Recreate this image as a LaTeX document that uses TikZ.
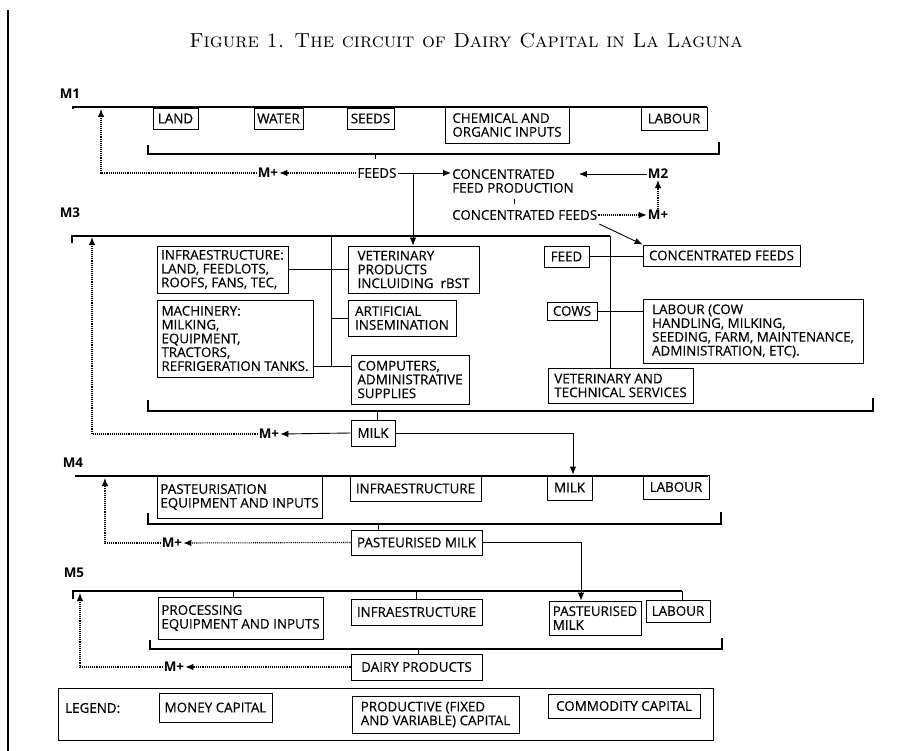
\documentclass[tikz,border=0pt]{standalone}
\usepackage{fontspec}
\usetikzlibrary{arrows.meta,calc}
\newfontfamily\diag[FakeBold=0.35]{Open Sans}
\newfontfamily\diagb{Open Sans}
\newcommand\dfont{\diag\fontsize{13.4}{13.8}\selectfont}
\newcommand\mkbox[6]{%
  \pgfmathsetmacro\bw{#4-#2}\pgfmathsetmacro\bh{#5-#3}%
  \node[bx, minimum width=\bw pt, minimum height=\bh pt] (#1) at ({(#2+#4)/2},{(#3+#5)/2}) {#6};}
\tikzset{
  bx/.style={draw, line width=0.9pt, inner xsep=3pt, inner ysep=0pt, align=left, font=\dfont},
  lbl/.style={inner sep=1pt, align=left, font=\dfont},
  mlbl/.style={inner sep=1pt, font=\diagb\bfseries\fontsize{13.4}{13.8}\selectfont},
  ml/.style={line width=1.3pt},
  conn/.style={line width=0.9pt},
  tipp/.style={-{Latex[length=8pt,width=6.5pt]}},
  money/.style={line width=1.1pt, densely dotted, tipp},
  flow/.style={line width=0.9pt, tipp},
}
\begin{document}
\begin{tikzpicture}[x=1pt,y=-1pt]
\useasboundingbox (0,0) rectangle (909,751);
\fill[white] (0,0) rectangle (909,751);
% page edge
\draw[line width=1.2pt] (8,10) -- (8,751);
% title
\node (title) at (466,41) {\fontsize{20.3}{23}\selectfont\textsc{Figure 1. The circuit of Dairy Capital in La Laguna}};

% ================= M1 =================
\node[mlbl] (m1) at (70,94) {M1};
\coordinate (m1s) at (73,107);
\coordinate (m1e) at (707,107);
\draw[ml] ([yshift=-2pt]m1s) -- (m1s) -- (m1e);
\mkbox{land}{153}{108}{198}{129}{LAND}
\mkbox{water}{254}{108}{303}{129}{WATER}
\mkbox{seeds}{347}{108}{394}{129}{SEEDS}
\mkbox{chem}{445}{107}{569}{143}{CHEMICAL AND\\ORGANIC INPUTS}
\mkbox{lab1}{641}{107}{707}{130}{LABOUR}
\coordinate (b1l) at (148,145);
\coordinate (b1r) at (719,142);
\draw[ml] (b1l) |- (b1r |- 0,154) -- (b1r);
\coordinate (t1) at (375,154);
\draw[conn] (t1) -- ++(0,5);
\node[lbl] (feeds) at (377,173) {FEEDS};
\node[mlbl] (mp1) at (268,173) {M+};
\coordinate (r1) at (101,109);
\draw[money] (feeds.west) -- (mp1.east);
\draw[money] (mp1.west) -| (r1);
\node[lbl, anchor=west] (cfp) at (451,181) {CONCENTRATED\\FEED PRODUCTION};
\draw[flow] (feeds.east) -- (feeds.east -| cfp.west);
\node[mlbl] (m2) at (658,174) {M2};
\draw[flow] (m2.west) -- ([xshift=4pt]cfp.east |- m2.west);
\coordinate (t2) at (514,199);
\draw[conn] (t2) -- ++(0,5);
\node[lbl, anchor=west] (cf) at (451,215) {CONCENTRATED FEEDS};
\node[mlbl] (mp2) at (658,215) {M+};
\draw[money] (cf.east) -- (mp2.west);
\draw[money] (mp2.north) -- (m2.south);

% ================= M3 =================
\node[mlbl] (m3) at (70,213) {M3};
\coordinate (m3s) at (72,236);
\coordinate (m3c) at (610,236);
\mkbox{infra}{157}{246}{288}{293}{INFRAESTRUCTURE:\\LAND, FEEDLOTS,\\ROOFS, FANS, TEC,}
\mkbox{vet}{348}{246}{479}{293}{VETERINARY\\PRODUCTS\\INCLUIDING\ \ rBST}
\mkbox{ai}{348}{300}{456}{336}{ARTIFICIAL\\INSEMINATION}
\mkbox{mach}{157}{300}{313}{377}{MACHINERY:\\MILKING,\\EQUIPMENT,\\TRACTORS,\\REFRIGERATION TANKS.}
\mkbox{comp}{351}{355}{469}{404}{COMPUTERS,\\ADMINISTRATIVE\\SUPPLIES}
\mkbox{feed}{544}{246}{589}{267}{FEED}
\mkbox{cfbox}{643}{245}{800}{266}{CONCENTRATED FEEDS}
\mkbox{cows}{547}{302}{597}{320}{COWS}
\mkbox{lab3}{643}{299}{863}{363}{LABOUR (COW\\HANDLING, MILKING,\\SEEDING, FARM, MAINTENANCE,\\ADMINISTRATION, ETC).}
\mkbox{vts}{548}{368}{693}{403}{VETERINARY AND\\TECHNICAL SERVICES}
\draw[ml] ([yshift=-7pt]m3s) -- (m3s) -- (m3c);
\draw[conn] (m3c) -- (m3c |- vts.north);
\coordinate (br) at (413,173);
\draw[flow] (br) -- (br |- vet.north);
\draw[flow] ([xshift=1pt,yshift=-3pt]cf.south east) -- (cfbox.north west);
\coordinate (v3) at (331,236);
\coordinate (j3) at (331,366);
\draw[conn] (v3) -- (j3);
\draw[conn] (infra.east) -- (vet.west);
\draw[conn] (v3 |- ai.west) -- (ai.west);
\draw[conn] (j3 -| mach.east) -- (j3 -| comp.west);
\draw[conn] (feed.east) -- (cfbox.west |- feed.east);
\draw[conn] (cows.east) -- (lab3.west |- cows.east);
\coordinate (b3l) at (148,400);
\coordinate (b3r) at (873,398);
\draw[ml] (b3l) |- (b3r |- 0,411) -- (b3r);
\mkbox{milk}{351}{420}{395}{446}{MILK}
\coordinate (t3) at (377,411);
\draw[conn] (t3) -- (t3 |- milk.north);
\node[mlbl] (mp3) at (269,434) {M+};
\coordinate (r3) at (92,237);
\draw[flow] (milk.west) -- (mp3.east);
\draw[money] (mp3.west) -| (r3);

% ================= M4 =================
\node[mlbl] (m4) at (73,463) {M4};
\coordinate (m4s) at (75,476);
\coordinate (m4e) at (708,476);
\draw[ml] (m4s) -- (m4e);
\mkbox{peq}{157}{476}{322}{518}{PASTEURISATION\\EQUIPMENT AND INPUTS}
\mkbox{infra4}{350}{476}{481}{501}{INFRAESTRUCTURE}
\mkbox{milk4}{547}{475}{592}{500}{MILK}
\mkbox{lab4}{643}{475}{709}{499}{LABOUR}
\draw[flow] (milk.east) -| ([xshift=3.5pt]milk4.north);
\coordinate (b4l) at (148,513);
\coordinate (b4r) at (721,512);
\draw[ml] (b4l) |- (b4r |- 0,524) -- (b4r);
\mkbox{pm}{351}{530}{482}{555}{PASTEURISED MILK}
\coordinate (t4) at (378,524);
\draw[conn] (t4) -- (t4 |- pm.north);
\node[mlbl] (mp4) at (172,543) {M+};
\coordinate (r4) at (105,478);
\draw[money] (pm.west) -- (mp4.east);
\draw[money] (mp4.west) -| (r4);

% ================= M5 =================
\node[mlbl] (m5) at (74,573) {M5};
\coordinate (m5s) at (73,591);
\coordinate (m5e) at (682,591);
\mkbox{proc}{158}{597}{323}{639}{PROCESSING\\EQUIPMENT AND INPUTS}
\mkbox{infra5}{351}{599}{482}{625}{INFRAESTRUCTURE}
\mkbox{pm5}{549}{601}{641}{635}{PASTEURISED\\MILK}
\mkbox{lab5}{646}{600}{710}{622}{LABOUR}
\draw[ml] ([yshift=-8pt]m5s) -- (m5s) -- (m5e);
\draw[conn] (m5e) -- (m5e |- lab5.north);
\coordinate (t5a) at (233,591);
\coordinate (t5b) at (416,591);
\draw[conn] (t5a) -- (t5a |- proc.north);
\draw[conn] (t5b) -- (t5b |- infra5.north);
\coordinate (d5) at (581,541);
\draw[flow] (pm.east) -| (d5 |- pm5.north);
\coordinate (b5l) at (150,640);
\coordinate (b5r) at (722,638);
\draw[ml] (b5l) |- (b5r |- 0,649) -- (b5r);
\mkbox{dp}{351}{654}{482}{680}{DAIRY PRODUCTS}
\coordinate (t5) at (418,649);
\draw[conn] (t5) -- (t5 |- dp.north);
\node[mlbl] (mp5) at (174,667) {M+};
\coordinate (r5) at (80,593);
\draw[money] (dp.west) -- (mp5.east);
\draw[money] (mp5.west) -| (r5);

% ================= legend =================
\mkbox{legend}{58}{688}{713}{740}{}
\node[lbl, anchor=west] (legt) at (64,708) {LEGEND:};
\mkbox{lmoney}{159}{693}{272}{722}{MONEY CAPITAL}
\mkbox{lprod}{352}{696}{519}{733}{PRODUCTIVE (FIXED\\AND VARIABLE) CAPITAL}
\mkbox{lcomm}{548}{694}{700}{718}{COMMODITY CAPITAL}
\end{tikzpicture}
\end{document}
